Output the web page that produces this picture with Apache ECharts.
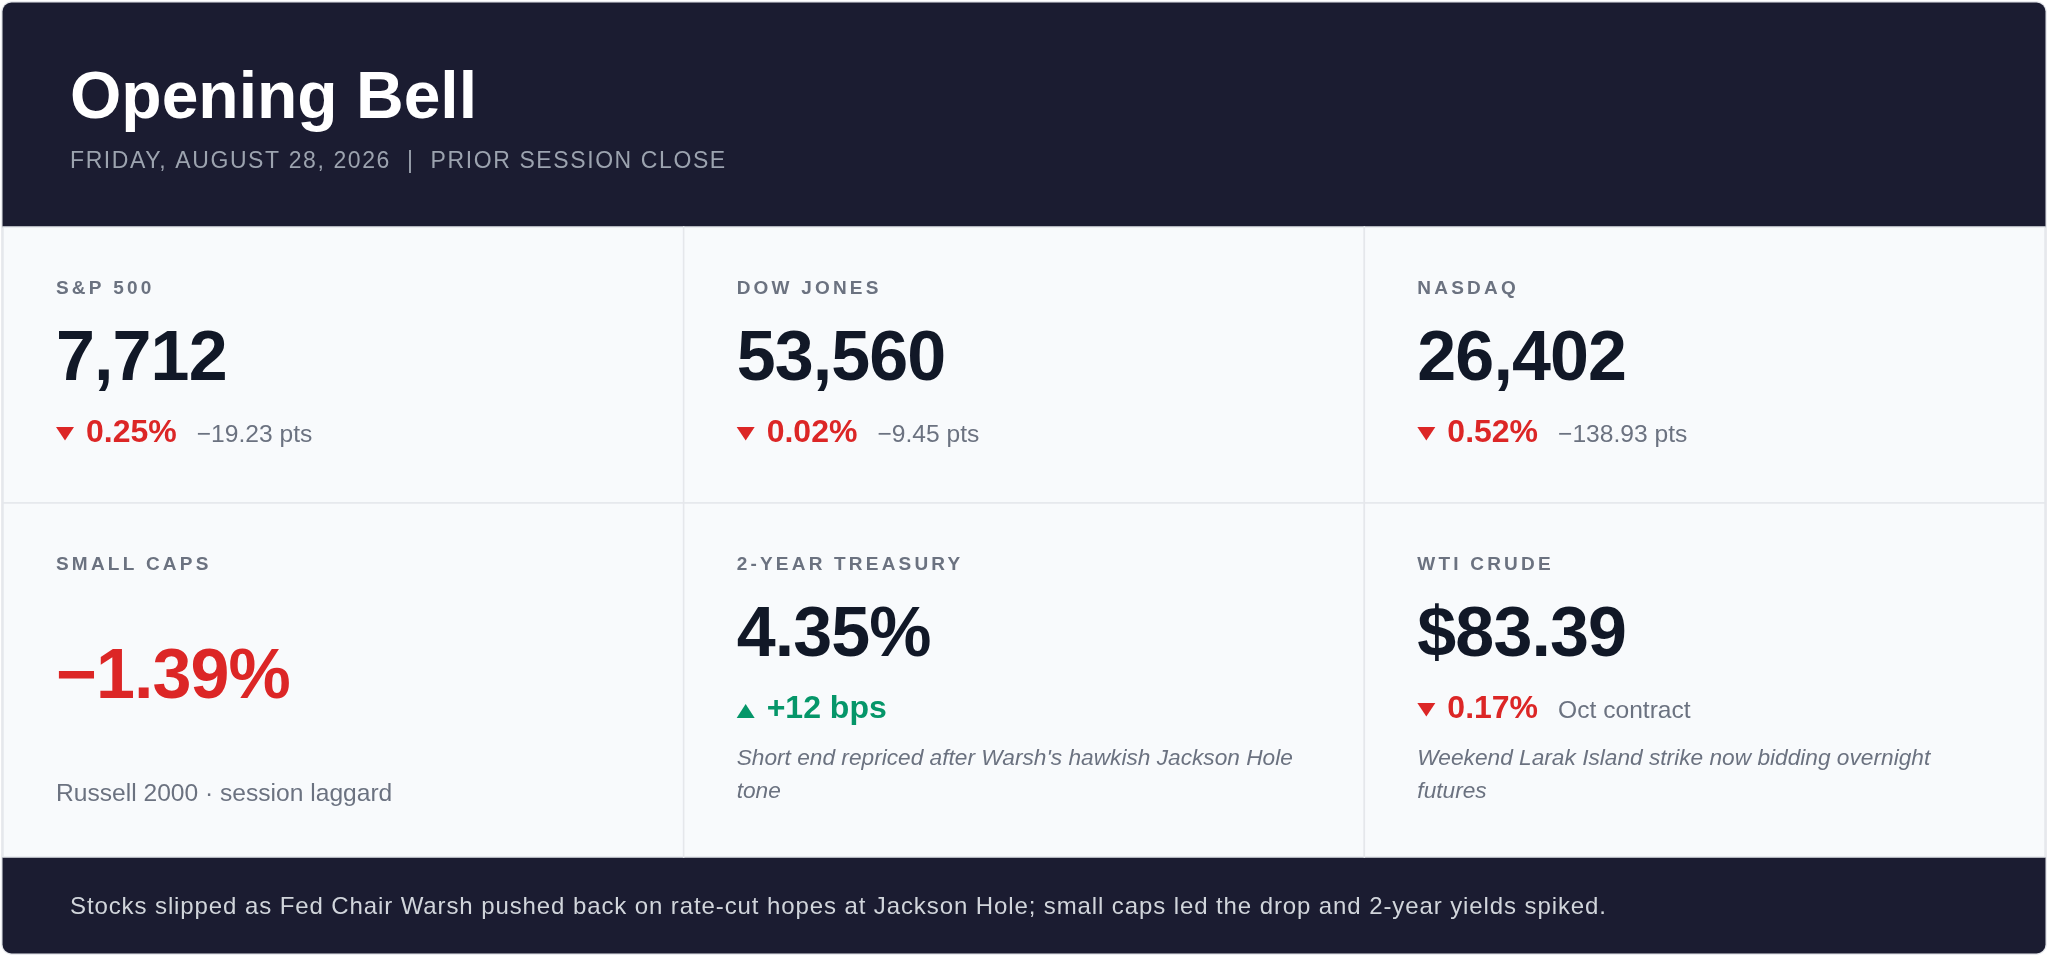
<!DOCTYPE html>
<html>
<head>
<meta charset="utf-8">
<title>Opening Bell</title>
<script src="https://cdn.jsdelivr.net/npm/echarts@6/dist/echarts.min.js"></script>
<style>
  html, body { margin: 0; padding: 0; background: #ffffff; }
  #board { width: 2048px; height: 956px; }
</style>
</head>
<body>
<div id="board"></div>
<script>
// tile contents, left to right, top row first
var labels = ['S&P 500', 'DOW JONES', 'NASDAQ', 'SMALL CAPS', '2-YEAR TREASURY', 'WTI CRUDE'];
var values = ['7,712', '53,560', '26,402', '\u22121.39%', '4.35%', '$83.39'];
var changes = ['0.25%', '0.02%', '0.52%', '', '+12 bps', '0.17%'];
var directions = ['down', 'down', 'down', 'down', 'up', 'down'];
var details = ['\u221219.23 pts', '\u22129.45 pts', '\u2212138.93 pts', 'Russell 2000 \u00b7 session laggard', '', 'Oct contract'];
var notes = ['', '', '', '',
    'Short end repriced after Warsh\'s hawkish Jackson Hole\ntone',
    'Weekend Larak Island strike now bidding overnight\nfutures'];
var columns = ['left', 'middle', 'right'];

var title = 'Opening Bell';
var subtitle = 'FRIDAY, AUGUST 28, 2026  |  PRIOR SESSION CLOSE';
var summary = 'Stocks slipped as Fed Chair Warsh pushed back on rate-cut hopes at Jackson Hole; small caps led the drop and 2-year yields spiked.';

var FONT = 'Liberation Sans';
var RED = '#dc2626', GREEN = '#059669';
var K = 0.28; // canvas 'middle' sits this many em above the baseline

// zrender has no letter-spacing, so give the canvas one for the strings that need it
var tracking = {};
tracking[subtitle] = 1.6;
tracking[summary] = 0.9;
labels.forEach(function (l) { tracking[l] = 3.2; });
values.forEach(function (v) { tracking[v] = -0.9; });
var origFill = CanvasRenderingContext2D.prototype.fillText;
CanvasRenderingContext2D.prototype.fillText = function (t, x, y, w) {
    var ls = tracking[t];
    if (ls !== undefined && 'letterSpacing' in this) {
        this.save();
        this.letterSpacing = ls + 'px';
        origFill.apply(this, arguments);
        this.restore();
        return;
    }
    return origFill.apply(this, arguments);
};

var mctx = document.createElement('canvas').getContext('2d');
function textWidth(str, size, weight) {
    mctx.font = (weight || 'normal') + ' ' + size + 'px "' + FONT + '"';
    return mctx.measureText(str).width;
}

// text placed by its baseline
function txt(str, x, baseline, size, extra) {
    var style = {
        text: str,
        fontFamily: FONT,
        fontSize: size,
        fontWeight: 'normal',
        fill: '#6b7280',
        align: 'left',
        verticalAlign: 'middle'
    };
    for (var k in extra) style[k] = extra[k];
    return { type: 'text', x: x, y: baseline - K * size, style: style };
}

function triangle(x, baseline, dir, color) {
    var pts = dir === 'up'
        ? [[x + 9, baseline - 14], [x + 18, baseline], [x, baseline]]
        : [[x, baseline - 15], [x + 18, baseline - 15], [x + 9, baseline - 1.5]];
    return { type: 'polygon', shape: { points: pts }, style: { fill: color } };
}

function renderCell(params, api) {
    var i = api.value(2);
    var c = api.coord([api.value(0), api.value(1)]);
    var s = api.size([1, 1]);
    var x0 = c[0] - s[0] / 2, y0 = c[1] - s[1] / 2;
    var cx = x0 + 53;
    var color = directions[i] === 'up' ? GREEN : RED;
    var children = [
        { type: 'rect', shape: { x: x0, y: y0, width: s[0], height: s[1] },
          style: { fill: '#f8fafc', stroke: '#e5e7eb', lineWidth: 1.5 } },
        txt(labels[i], cx, y0 + 67, 19, { fontWeight: 'bold', fill: '#6b7280' })
    ];

    if (changes[i] === '') {
        // headline tile: the move itself is the big number
        children.push(txt(values[i], cx, y0 + 195, 70, { fontWeight: 'bold', fill: color }));
        children.push(txt(details[i], cx, y0 + 298, 24.6, { fill: '#6b7280' }));
        return { type: 'group', children: children };
    }

    children.push(txt(values[i], cx, y0 + 153, 70, { fontWeight: 'bold', fill: '#111827' }));
    var b = y0 + 215;
    children.push(triangle(cx, b, directions[i], color));
    children.push(txt(changes[i], cx + 30, b, 32, { fontWeight: 'bold', fill: color }));
    if (details[i]) {
        var w = textWidth(changes[i], 32, 'bold');
        children.push(txt(details[i], cx + 30 + w + 20, b, 24.6, { fill: '#6b7280' }));
    }
    if (notes[i]) {
        var note = txt(notes[i], cx, y0 + 262, 22.7, {
            fontStyle: 'italic', fill: '#6b7280', lineHeight: 33, verticalAlign: 'top'
        });
        note.y = y0 + 262 - 16.5 - K * 22.7;
        children.push(note);
    }
    return { type: 'group', children: children };
}

var rows = [[], []];
for (var i = 0; i < labels.length; i++) {
    rows[Math.floor(i / 3)].push([i % 3, 0, i]);
}

var myChart = echarts.init(document.getElementById('board'));

option = {
    animation: false,
    grid: [
        { left: 3, top: 227, width: 2042, height: 276 },
        { left: 3, top: 503, width: 2042, height: 354 }
    ],
    xAxis: [
        { type: 'category', gridIndex: 0, data: columns, show: false },
        { type: 'category', gridIndex: 1, data: columns, show: false }
    ],
    yAxis: [
        { type: 'category', gridIndex: 0, data: ['indices'], show: false },
        { type: 'category', gridIndex: 1, data: ['macro'], show: false }
    ],
    graphic: [
        { type: 'rect', shape: { x: 2, y: 2, width: 2044, height: 952, r: 10 },
          style: { fill: '#f8fafc', stroke: '#e2e4e9', lineWidth: 1.5 } },
        { type: 'rect', shape: { x: 2.5, y: 2.5, width: 2043, height: 225, r: [9, 9, 0, 0] },
          style: { fill: '#1b1c31' } },
        { type: 'rect', shape: { x: 2.5, y: 857, width: 2043, height: 96.5, r: [0, 0, 9, 9] },
          style: { fill: '#1b1c31' } },
        txt(title, 70, 118, 66, { fontWeight: 'bold', fill: '#ffffff' }),
        txt(subtitle, 70, 168, 23, { fill: '#9ca3af' }),
        txt(summary, 70, 914, 24, { fill: '#d1d5db' })
    ],
    series: [
        { type: 'custom', xAxisIndex: 0, yAxisIndex: 0, data: rows[0],
          encode: { x: 0, y: 1 }, renderItem: renderCell },
        { type: 'custom', xAxisIndex: 1, yAxisIndex: 1, data: rows[1],
          encode: { x: 0, y: 1 }, renderItem: renderCell }
    ]
};

myChart.setOption(option);
</script>
</body>
</html>
